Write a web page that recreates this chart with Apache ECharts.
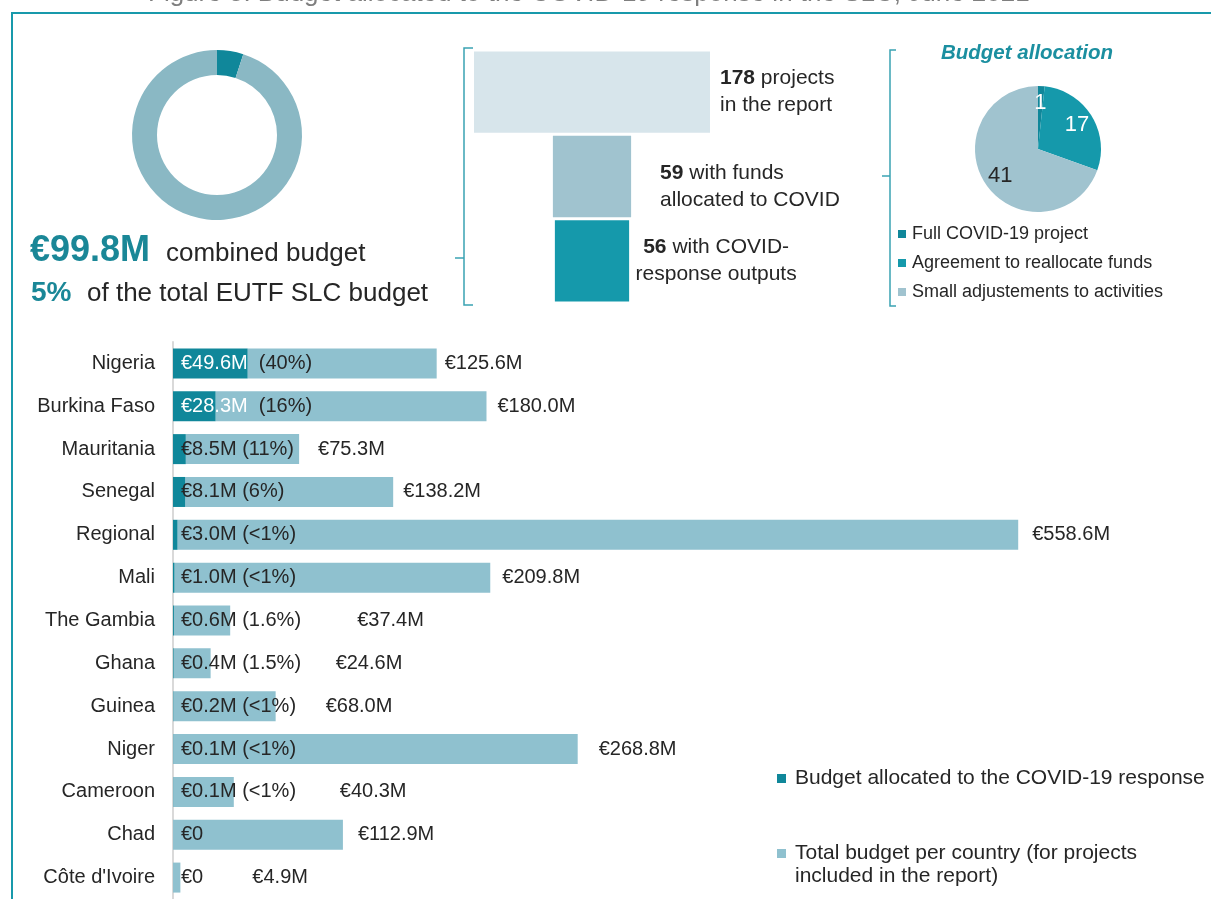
<!DOCTYPE html>
<html>
<head>
<meta charset="utf-8">
<script src="https://cdn.jsdelivr.net/npm/echarts@6/dist/echarts.min.js"></script>
<style>
  html, body { margin: 0; padding: 0; background: #fff; }
  #chart { width: 1211px; height: 899px; }
</style>
</head>
<body>
<div id="chart"></div>
<script>
const FONT = "'Liberation Sans', Arial, sans-serif";

// bar chart: budget per country (M€)
const countries = ["Nigeria", "Burkina Faso", "Mauritania", "Senegal", "Regional", "Mali", "The Gambia",
  "Ghana", "Guinea", "Niger", "Cameroon", "Chad", "Côte d'Ivoire"];
const covidBudget = [49.6, 28.3, 8.5, 8.1, 3.0, 1.0, 0.6, 0.4, 0.2, 0.1, 0.1, 0, 0];
const totalBudget = [125.6, 180.0, 75.3, 138.2, 558.6, 209.8, 37.4, 24.6, 68.0, 268.8, 40.3, 112.9, 4.9];
const covidShare = ["40%", "16%", "11%", "6%", "<1%", "<1%", "1.6%", "1.5%", "<1%", "<1%", "<1%", "", ""];
const barNames = ["Budget allocated to the COVID-19 response",
  "Total budget per country (for projects included in the report)"];

// donut: share of the EUTF SLC budget
const donutNames = ["COVID-19 response", "Rest of the EUTF SLC budget"];
const donutShares = [5, 95];

// project funnel
const funnelCounts = [178, 59, 56];
const funnelText = ["projects\nin the report", "with funds\nallocated to COVID", "with COVID-\nresponse outputs"];

// pie: budget allocation type (number of projects)
const allocNames = ["Full COVID-19 project", "Agreement to reallocate funds", "Small adjustements to activities"];
const allocCounts = [1, 17, 41];

const DARK = "#10879a";
const MID = "#1599ab";
const PALE = "#a0c3cf";
const BAR_LIGHT = "#8fc1cf";
const TEXT = "#262626";
const FRAME = "#1899ab";
const BRACKET = "#3aa3b3";

// label layout tweaks (px), kept apart from the data
const totalLabelGap = [8, 11, 19, 10, 14, 12, 127, 125, 50, 21, 106, 15, 72];
const funnelLabelLayout = [
  { dist: 10, dy: 0, align: "left" },
  { dist: 29, dy: 10, align: "left" },
  { dist: 87, dy: 0, align: "center" },
];
const funnelColors = ["#d7e5eb", PALE, MID];

const fmtM = (v) => (v === 0 ? "€0" : `€${v.toFixed(1)}M`);

const chart = echarts.init(document.getElementById("chart"), null, { renderer: "canvas" });

chart.setOption({
  animation: false,
  backgroundColor: "#fff",
  textStyle: { fontFamily: FONT },
  grid: [
    { left: 474, top: 50, width: 236, height: 253 },
    { left: 173, top: 342, width: 903, height: 559 },
  ],
  xAxis: [
    { gridIndex: 0, type: "value", min: -89, max: 89, show: false },
    { gridIndex: 1, type: "value", min: 0, max: 600, show: false },
  ],
  yAxis: [
    { gridIndex: 0, type: "category", inverse: true, data: funnelCounts.map(String), show: false },
    {
      gridIndex: 1,
      type: "category",
      inverse: true,
      data: countries,
      axisLine: { show: true, lineStyle: { color: "#d9d9d9", width: 2 } },
      axisTick: { show: false },
      axisLabel: { fontSize: 20, color: TEXT, margin: 18, fontFamily: FONT },
    },
  ],
  legend: [
    {
      data: allocNames,
      orient: "vertical",
      left: 898,
      top: 224,
      padding: 0,
      icon: "rect",
      itemWidth: 8,
      itemHeight: 8,
      itemGap: 9,
      selectedMode: false,
      textStyle: { fontSize: 18, color: TEXT, lineHeight: 20, fontFamily: FONT, padding: [0, 0, 0, 1] },
    },
    {
      data: [barNames[0]],
      left: 777,
      top: 767,
      padding: 0,
      icon: "rect",
      itemWidth: 9,
      itemHeight: 9,
      selectedMode: false,
      textStyle: { fontSize: 21, color: TEXT, lineHeight: 23, fontFamily: FONT, padding: [0, 0, 0, 4] },
    },
    {
      data: [barNames[1]],
      left: 777,
      top: 819,
      padding: 0,
      icon: "rect",
      itemWidth: 9,
      itemHeight: 9,
      selectedMode: false,
      // empty first line so that the icon lines up with the first text line
      formatter: () => "{s| }\n{a|Total budget per country (for projects}\n{a|included in the report)}",
      textStyle: {
        fontSize: 21, color: TEXT, lineHeight: 23, fontFamily: FONT, padding: [0, 0, 0, 4],
        rich: {
          s: { fontSize: 21, lineHeight: 23, fontFamily: FONT },
          a: { fontSize: 21, lineHeight: 23, fontFamily: FONT, color: TEXT },
        },
      },
    },
  ],
  graphic: [
    // frame
    { type: "line", shape: { x1: 11, y1: 13, x2: 1211, y2: 13 }, style: { stroke: FRAME, lineWidth: 2 } },
    { type: "line", shape: { x1: 12, y1: 13, x2: 12, y2: 899 }, style: { stroke: FRAME, lineWidth: 2 } },
    // brackets
    { type: "polyline", shape: { points: [[473, 48], [464, 48], [464, 305], [473, 305]] }, style: { stroke: BRACKET, lineWidth: 1.5, fill: null } },
    { type: "line", shape: { x1: 455, y1: 258, x2: 464, y2: 258 }, style: { stroke: BRACKET, lineWidth: 1.5 } },
    { type: "polyline", shape: { points: [[896, 50], [890, 50], [890, 306], [896, 306]] }, style: { stroke: BRACKET, lineWidth: 1.5, fill: null } },
    { type: "line", shape: { x1: 882, y1: 176, x2: 890, y2: 176 }, style: { stroke: BRACKET, lineWidth: 1.5 } },
    // clipped figure title
    {
      type: "text", x: 148, y: 7,
      style: { text: "Figure 8: Budget allocated to the COVID-19 response in the SLC, June 2021", fill: "#7f7f7f",
        fontSize: 26, fontFamily: FONT, align: "left", verticalAlign: "bottom" },
    },
    // donut caption
    { type: "text", x: 30, y: 251, style: { text: "€99.8M", fill: "#1a8797", fontSize: 36, fontWeight: "bold", fontFamily: FONT, verticalAlign: "middle" } },
    { type: "text", x: 166, y: 254, style: { text: "combined budget", fill: TEXT, fontSize: 26, fontFamily: FONT, verticalAlign: "middle" } },
    { type: "text", x: 31, y: 293, style: { text: "5%", fill: "#1a8797", fontSize: 28, fontWeight: "bold", fontFamily: FONT, verticalAlign: "middle" } },
    { type: "text", x: 87, y: 294, style: { text: "of the total EUTF SLC budget", fill: TEXT, fontSize: 26, fontFamily: FONT, verticalAlign: "middle" } },
    // pie title
    { type: "text", x: 941, y: 53, style: { text: "Budget allocation", fill: "#1b8fa0", fontSize: 20.5, fontWeight: "bold", fontStyle: "italic", fontFamily: FONT, verticalAlign: "middle" } },
  ],
  series: [
    {
      type: "pie",
      center: [217, 135],
      radius: [60, 85],
      startAngle: 90,
      silent: true,
      label: { show: false },
      labelLine: { show: false },
      data: donutNames.map((n, i) => ({ name: n, value: donutShares[i] })),
      color: [DARK, "#8ab8c4"],
    },
    {
      type: "custom",
      xAxisIndex: 0,
      yAxisIndex: 0,
      silent: true,
      data: funnelCounts.map((v, i) => [v, i]),
      encode: { x: 0, y: 1 },
      renderItem(params, api) {
        const i = params.dataIndex;
        const v = api.value(0);
        const left = api.coord([-v / 2, api.value(1)]);
        const right = api.coord([v / 2, api.value(1)]);
        const h = api.size([0, 1])[1] - 3;
        const lay = funnelLabelLayout[i];
        const base = { fontSize: 21, fontFamily: FONT, fill: TEXT, lineHeight: 27 };
        return {
          type: "rect",
          shape: { x: left[0], y: left[1] - h / 2, width: right[0] - left[0], height: h },
          style: { fill: funnelColors[i] },
          textContent: {
            style: {
              ...base,
              text: `{b|${funnelCounts[i]}} ${funnelText[i]}`,
              align: lay.align,
              rich: { b: { ...base, fontWeight: "bold" } },
            },
          },
          textConfig: { position: "right", distance: lay.dist, offset: [0, lay.dy] },
        };
      },
    },
    {
      type: "pie",
      center: [1038, 149],
      radius: 63,
      startAngle: 90,
      silent: true,
      label: { show: false },
      labelLine: { show: false },
      data: allocNames.map((n, i) => ({ name: n, value: allocCounts[i] })),
      color: [DARK, MID, PALE],
    },
    {
      // label carrier for the pie (labels sit further out than the default inside spot)
      type: "pie",
      center: [1038, 149],
      radius: 86,
      startAngle: 90,
      silent: true,
      itemStyle: { color: "rgba(0,0,0,0)" },
      labelLine: { show: false },
      label: { show: true, position: "inside", formatter: "{c}", fontSize: 22, fontFamily: FONT },
      data: allocNames.map((n, i) => ({
        name: n,
        value: allocCounts[i],
        label: { color: i < 2 ? "#fff" : TEXT },
      })),
    },
    {
      name: barNames[0],
      type: "bar",
      xAxisIndex: 1,
      yAxisIndex: 1,
      stack: "budget",
      barWidth: 30,
      z: 3,
      itemStyle: { color: DARK },
      data: covidBudget,
      label: {
        show: true,
        position: [8, "50%"],
        align: "left",
        verticalAlign: "middle",
        fontSize: 20,
        fontFamily: FONT,
        color: TEXT,
        formatter: (p) => {
          const v = covidBudget[p.dataIndex];
          const share = covidShare[p.dataIndex];
          if (v >= 20) return `{w|${fmtM(v)}}  (${share})`;
          return share ? `${fmtM(v)} (${share})` : fmtM(v);
        },
        rich: { w: { color: "#fff", fontSize: 20, fontFamily: FONT } },
      },
    },
    {
      name: barNames[1],
      type: "bar",
      xAxisIndex: 1,
      yAxisIndex: 1,
      stack: "budget",
      barWidth: 30,
      itemStyle: { color: BAR_LIGHT },
      data: totalBudget.map((v, i) => ({ value: v, label: { distance: totalLabelGap[i] } })),
      label: {
        show: true,
        position: "right",
        fontSize: 20,
        fontFamily: FONT,
        color: TEXT,
        formatter: (p) => fmtM(totalBudget[p.dataIndex]),
      },
    },
  ],
});
</script>
</body>
</html>
